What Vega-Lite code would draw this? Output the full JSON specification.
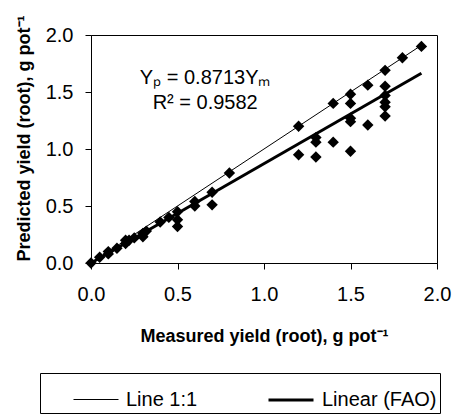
{
  "$schema": "https://vega.github.io/schema/vega-lite/v6.json",
  "width": 346,
  "height": 228,
  "autosize": {"type": "none"},
  "padding": {"left": 91, "top": 35, "right": 31, "bottom": 152},
  "background": "white",
  "config": {
    "font": "Liberation Sans",
    "view": {"stroke": "black", "strokeWidth": 1},
    "axis": {
      "grid": false,
      "domainColor": "black",
      "tickColor": "black",
      "labelColor": "black",
      "titleColor": "black",
      "labelFont": "Liberation Sans",
      "labelFontSize": 20,
      "tickSize": 6,
      "labelFlush": false,
      "labelOverlap": false,
      "titleFont": "Liberation Sans",
      "titleFontSize": 18,
      "titleFontWeight": "bold"
    }
  },
  "layer": [
    {
      "data": {
        "values": [
          {"series": "Line 1:1", "x": 0, "y": 0},
          {"series": "Line 1:1", "x": 1.92, "y": 1.92},
          {"series": "Linear (FAO)", "x": 0, "y": 0},
          {"series": "Linear (FAO)", "x": 1.91, "y": 1.664}
        ]
      },
      "mark": {"type": "line"},
      "encoding": {
        "x": {
          "field": "x", "type": "quantitative",
          "scale": {"domain": [0, 2], "nice": false},
          "axis": {"values": [0, 0.5, 1, 1.5, 2], "format": ".1f", "title": "Measured yield (root), g pot⁻¹", "labelPadding": 15, "titlePadding": 23}
        },
        "y": {
          "field": "y", "type": "quantitative",
          "scale": {"domain": [0, 2], "nice": false},
          "axis": {"values": [0, 0.5, 1, 1.5, 2], "format": ".1f", "title": "Predicted yield (root), g pot⁻¹", "labelPadding": 12, "titlePadding": 12, "titleY": 103}
        },
        "color": {
          "field": "series", "type": "nominal",
          "scale": {"domain": ["Line 1:1", "Linear (FAO)"], "range": ["black", "black"]},
          "legend": {
            "title": null,
            "orient": "none",
            "legendX": -51,
            "legendY": 338,
            "direction": "horizontal",
            "strokeColor": "black",
            "fillColor": "white",
            "padding": 3,
            "symbolOffset": 30,
            "symbolType": "stroke",
            "symbolSize": 2025,
            "labelFontSize": 20,
            "labelColor": "black",
            "labelFont": "Liberation Sans",
            "columnPadding": 39,
            "labelOffset": 7
          }
        },
        "strokeWidth": {
          "field": "series", "type": "nominal",
          "scale": {"domain": ["Line 1:1", "Linear (FAO)"], "range": [1, 3]},
          "legend": {
            "title": null,
            "orient": "none",
            "legendX": -51,
            "legendY": 338,
            "direction": "horizontal",
            "strokeColor": "black",
            "fillColor": "white",
            "padding": 3,
            "symbolOffset": 30,
            "symbolType": "stroke",
            "symbolSize": 2025,
            "labelFontSize": 20,
            "labelColor": "black",
            "labelFont": "Liberation Sans",
            "columnPadding": 39,
            "labelOffset": 7
          }
        }
      }
    },
    {
      "data": {
        "values": [
          {"x": 0, "y": 0}, {"x": 0.05, "y": 0.05}, {"x": 0.1, "y": 0.1}, {"x": 0.1, "y": 0.08},
          {"x": 0.15, "y": 0.13}, {"x": 0.2, "y": 0.2}, {"x": 0.2, "y": 0.17}, {"x": 0.22, "y": 0.2},
          {"x": 0.25, "y": 0.22}, {"x": 0.3, "y": 0.26}, {"x": 0.3, "y": 0.23}, {"x": 0.32, "y": 0.28},
          {"x": 0.4, "y": 0.36}, {"x": 0.45, "y": 0.4}, {"x": 0.5, "y": 0.45}, {"x": 0.5, "y": 0.38},
          {"x": 0.5, "y": 0.32}, {"x": 0.6, "y": 0.54}, {"x": 0.6, "y": 0.5}, {"x": 0.7, "y": 0.62},
          {"x": 0.7, "y": 0.51}, {"x": 0.8, "y": 0.79}, {"x": 1.2, "y": 1.2}, {"x": 1.2, "y": 0.95},
          {"x": 1.3, "y": 1.1}, {"x": 1.3, "y": 1.06}, {"x": 1.3, "y": 0.93}, {"x": 1.4, "y": 1.4},
          {"x": 1.4, "y": 1.06}, {"x": 1.5, "y": 1.48}, {"x": 1.5, "y": 1.4}, {"x": 1.5, "y": 1.27},
          {"x": 1.5, "y": 1.24}, {"x": 1.5, "y": 0.98}, {"x": 1.6, "y": 1.56}, {"x": 1.6, "y": 1.21},
          {"x": 1.7, "y": 1.69}, {"x": 1.7, "y": 1.55}, {"x": 1.7, "y": 1.47}, {"x": 1.7, "y": 1.41},
          {"x": 1.7, "y": 1.37}, {"x": 1.7, "y": 1.29}, {"x": 1.8, "y": 1.8}, {"x": 1.91, "y": 1.9}
        ]
      },
      "mark": {"type": "point", "shape": "diamond", "filled": true, "color": "black", "size": 130, "opacity": 1},
      "encoding": {
        "x": {"field": "x", "type": "quantitative"},
        "y": {"field": "y", "type": "quantitative"}
      }
    },
    {
      "data": {
        "values": [
          {"x": 0.66, "y": 1.62, "label": "Yₚ = 0.8713Yₘ"},
          {"x": 0.66, "y": 1.40, "label": "R² = 0.9582"}
        ]
      },
      "mark": {"type": "text", "fontSize": 20, "font": "Liberation Sans", "color": "black", "align": "center", "baseline": "middle"},
      "encoding": {
        "x": {"field": "x", "type": "quantitative"},
        "y": {"field": "y", "type": "quantitative"},
        "text": {"field": "label"}
      }
    }
  ]
}
